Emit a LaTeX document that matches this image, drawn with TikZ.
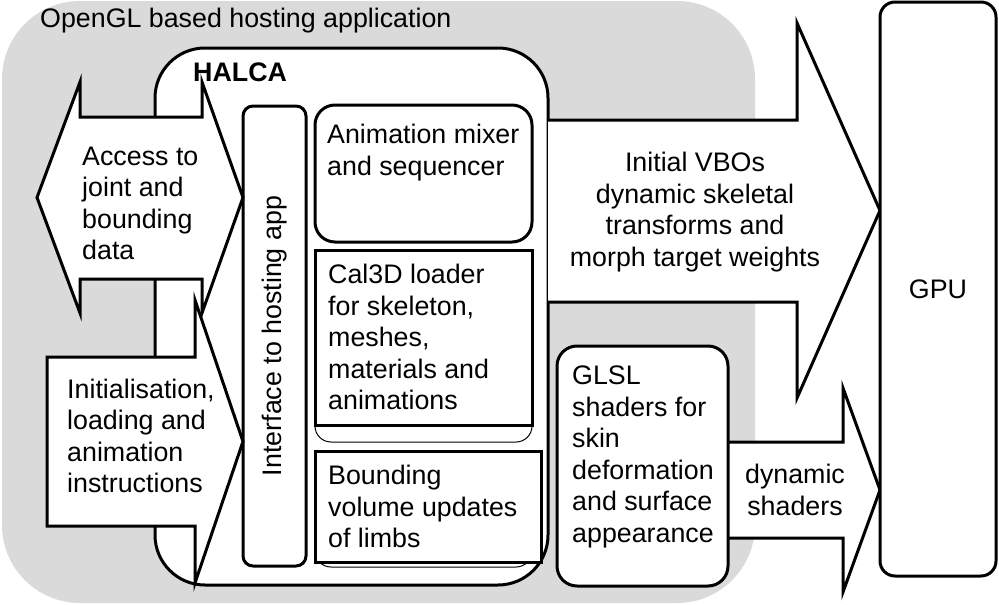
\documentclass[tikz,border=0pt]{standalone}
\usepackage{fontspec}
\setmainfont{Liberation Sans}
\usepackage{tikz}
\usetikzlibrary{positioning}
\definecolor{hostgrey}{RGB}{218,218,218}
\tikzset{
  txt/.style={inner sep=0pt,font=\fontsize{26.8}{31.5}\selectfont},
  lefttxt/.style={txt,align=left,anchor=west},
  midtxt/.style={txt,align=center},
  module/.style={draw,line width=3pt,fill=white,rounded corners=#1},
  module/.default=20pt,
  plainbox/.style={draw,line width=3pt,fill=white},
  shadowbox/.style={draw,line width=1pt,fill=white,rounded corners=16pt},
  blockarrow/.style={draw,line width=3pt,fill=white,line join=miter}
}
\begin{document}
\begin{tikzpicture}[x=1pt,y=-1pt]
  \useasboundingbox (0,0) rectangle (999,605);
  % hosting application
  \fill[hostgrey,rounded corners=78pt] (2,1) rectangle (755,603);
  \node[lefttxt] (host) at (40,21) {OpenGL based hosting application};
  % HALCA
  \draw[module=50pt] (155,48) rectangle (548,585);
  \node[lefttxt,font=\fontsize{26.8}{31.5}\selectfont\bfseries] (halca) at (193,72) {HALCA};
  % output arrows
  \draw[blockarrow] (548,120) -- (797,120) -- (797,23) -- (880,210.5)
    -- (797,398) -- (797,302) -- (548,302);
  \node[midtxt] (vbos) at (695,212) {Initial VBOs\\dynamic skeletal\\transforms and\\morph target weights};
  \draw[blockarrow] (728,442) -- (843,442) -- (843,388) -- (880,490)
    -- (843,592) -- (843,538) -- (728,538);
  \node[midtxt] (dyn) at (795,490) {dynamic\\shaders};
  % GPU and shaders
  \draw[module=15pt] (880,2) rectangle (996,576);
  \node[txt] (gpu) at (938,289) {GPU};
  \draw[module] (557,346) rectangle (728,586);
  \node[lefttxt] (glsl) at (572,457) {GLSL\\shaders for\\skin\\deformation\\and surface\\appearance};
  % inner modules
  \draw[module=10pt] (243,106) rectangle (306,566);
  \node[txt,rotate=90] (iface) at (275,336) {Interface to hosting app};
  \draw[module] (315,105) rectangle (532,242);
  \node[lefttxt] (mixer) at (327,152.5) {Animation mixer\\and sequencer};
  \draw[shadowbox] (315,250) rectangle (532,442);
  \draw[plainbox] (315,250) rectangle (532,425);
  \node[lefttxt] (loader) at (328,337) {Cal3D loader\\for skeleton,\\meshes,\\materials and\\animations};
  \draw[shadowbox] (315,451) rectangle (532,567);
  \draw[plainbox] (315,451) rectangle (541,562);
  \node[lefttxt] (bound) at (328,506.5) {Bounding\\volume updates\\of limbs};
  % input arrows
  \draw[blockarrow] (37,197.5) -- (80,82) -- (80,117) -- (202,117) -- (202,82)
    -- (243,197.5) -- (202,313) -- (202,279) -- (80,279) -- (80,313) -- cycle;
  \node[lefttxt] (access) at (82,203.5) {Access to\\joint and\\bounding\\data};
  \draw[blockarrow] (47,357) -- (195,357) -- (195,300) -- (243,441.5)
    -- (195,583) -- (195,526) -- (47,526) -- cycle;
  \node[lefttxt] (init) at (67,436) {Initialisation,\\loading and\\animation\\instructions};
\end{tikzpicture}
\end{document}
